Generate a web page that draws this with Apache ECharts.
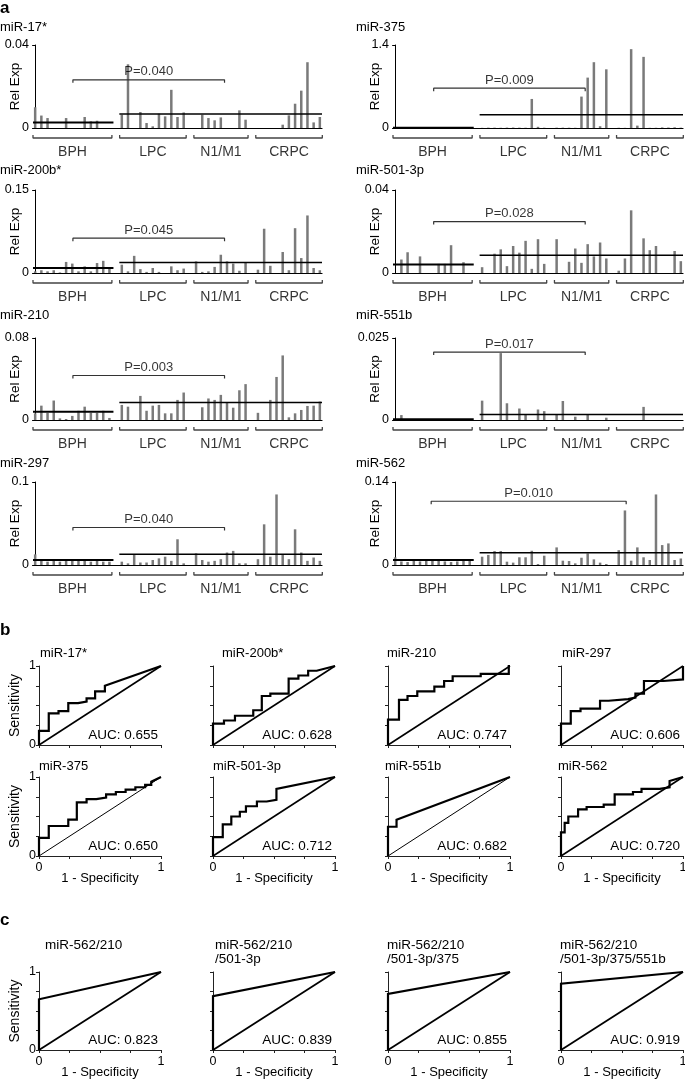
<!DOCTYPE html>
<html>
<head>
<meta charset="utf-8">
<script src="https://cdn.jsdelivr.net/npm/echarts@6/dist/echarts.min.js"></script>
<style>
html,body{margin:0;padding:0;background:#fff}
#chart{width:685px;height:1080px}
</style>
</head>
<body>
<div id="chart"></div>
<script>
// ---- panel a : relative expression per sample (BPH, LPC, N1/M1, CRPC in order) ----
var groupNames = ['BPH', 'LPC', 'N1/M1', 'CRPC'];
var groupSizes = [13, 11, 9, 11];

var mir17 = [0.010,0.006,0.0048,0,0,0.0048,0,0,0.0053,0.0032,0.0035,0,0,
  0.0064,0.0307,0,0.0077,0.0024,0.0008,0.0069,0.0056,0.0184,0.0053,0.0075,
  0,0.0064,0.0048,0.0037,0.0051,0,0,0.0085,0.004,
  0,0,0,0,0.0016,0.0061,0.0117,0.018,0.0317,0.0027,0.0053];
var mir375 = [0.004,0.003,0.003,0.002,0.003,0.004,0.003,0.002,0.003,0.004,0.003,0.003,0.012,
  0.003,0.006,0.006,0.004,0.007,0.008,0.006,0.005,0.49,0.02,0.005,
  0.006,0.006,0.005,0.004,0.53,0.85,1.11,0.03,0.99,
  0.004,0.003,1.33,0.04,1.20,0.003,0.004,0.01,0.008,0.012,0.006];
var mir200b = [0.003,0.005,0.003,0.005,0.001,0.020,0.017,0.003,0.012,0.003,0.018,0.022,0.009,
  0.015,0.003,0.031,0.007,0.002,0.009,0.002,0,0.012,0.005,0.008,
  0.021,0.002,0.003,0.011,0.033,0.021,0.017,0.004,0.019,
  0.006,0.080,0.013,0,0.038,0.005,0.081,0.027,0.104,0.009,0.005];
var mir501 = [0,0.0065,0.010,0,0.008,0,0,0.0044,0.0044,0.0134,0,0.0052,0,
  0.0028,0,0.0093,0.0114,0.0033,0.013,0.0098,0.0155,0.002,0.0163,0.0044,
  0.0163,0,0.0054,0.0118,0.0049,0.0139,0.008,0.0147,0.007,
  0.0011,0.007,0.0302,0,0.0167,0.011,0.013,0,0,0.0106,0.0057];
var mir210 = [0.0065,0.014,0.007,0.019,0.0016,0.001,0.004,0.009,0.013,0.007,0.007,0.009,0.002,
  0.0147,0.013,0,0.0235,0.009,0.014,0.0147,0.0065,0.0065,0.0196,0.0268,
  0,0.0124,0.021,0.0196,0.0245,0.0173,0.012,0.029,0.035,
  0.007,0,0.0196,0.042,0.063,0.0026,0.0065,0.0098,0.0137,0.014,0.018];
var mir551b = [0,0.0015,0,0,0,0,0,0,0,0,0,0,0,
  0.0059,0,0,0.0204,0.0051,0,0.0035,0.0017,0,0.0032,0.0027,
  0.0017,0.0058,0,0.001,0,0.0017,0,0,0.0007,
  0,0,0,0,0.004,0,0,0,0,0,0];
var mir297 = [0.0128,0.005,0.004,0.005,0.004,0.005,0.006,0.005,0.005,0.004,0.005,0.004,0.004,
  0.004,0.002,0.0128,0.003,0.003,0.006,0.008,0.010,0.005,0.031,0.002,
  0.014,0.006,0.004,0.005,0.007,0.015,0.017,0.002,0.002,
  0.007,0.049,0.010,0.085,0.013,0.007,0.043,0.015,0.005,0.009,0.005];
var mir562 = [0.013,0.006,0.005,0.007,0.006,0.008,0.007,0.007,0.006,0.005,0.006,0.008,0.008,
  0.014,0.017,0.0235,0.0235,0.0056,0.004,0.013,0.013,0.024,0.0017,0.0157,
  0.0297,0.0073,0.0067,0.0028,0.0123,0.0196,0.0095,0.004,0.0017,
  0.025,0.092,0.0073,0.0297,0.013,0.0084,0.119,0.0336,0.0364,0.0084,0.011];

var barTitles = ['miR-17*', 'miR-375', 'miR-200b*', 'miR-501-3p', 'miR-210', 'miR-551b', 'miR-297', 'miR-562'];
var barValues = [mir17, mir375, mir200b, mir501, mir210, mir551b, mir297, mir562];
var barMax = [0.04, 1.4, 0.15, 0.04, 0.08, 0.025, 0.1, 0.14];
var bphMean = [0.0027, 0.004, 0.009, 0.0041, 0.008, 0.0002, 0.006, 0.0084];
var cancerMean = [0.0067, 0.224, 0.019, 0.0085, 0.017, 0.0017, 0.013, 0.0207];
var pLabels = ['P=0.040', 'P=0.009', 'P=0.045', 'P=0.028', 'P=0.003', 'P=0.017', 'P=0.040', 'P=0.010'];
var pLevel = [0.0232, 0.672, 0.063, 0.0248, 0.0434, 0.0207, 0.0452, 0.1075];
var pFrom = [6.1, 6.2, 6.1, 6.2, 6.1, 6.2, 6.1, 5.8];
var pTo = [30.6, 30.6, 30.6, 30.6, 30.6, 30.6, 30.6, 37.2];

// ---- panel b : ROC curves of single miRNAs ----
var rocTitles = ['miR-17*', 'miR-200b*', 'miR-210', 'miR-297', 'miR-375', 'miR-501-3p', 'miR-551b', 'miR-562'];
var rocAuc = ['0.655', '0.628', '0.747', '0.606', '0.650', '0.712', '0.682', '0.720'];
var roc17 = [[0,0],[0,0.18],[0.08,0.18],[0.08,0.40],[0.16,0.40],[0.16,0.43],[0.24,0.43],[0.24,0.53],[0.32,0.53],[0.32,0.55],[0.39,0.55],[0.39,0.59],[0.46,0.59],[0.46,0.68],[0.54,0.68],[0.54,0.75],[1,1]];
var roc200b = [[0,0],[0,0.27],[0.09,0.27],[0.09,0.31],[0.18,0.31],[0.18,0.37],[0.33,0.37],[0.33,0.44],[0.40,0.44],[0.40,0.62],[0.47,0.62],[0.47,0.65],[0.62,0.65],[0.62,0.84],[0.70,0.84],[0.70,0.88],[0.78,0.88],[0.78,0.94],[0.85,0.94],[1,1]];
var roc210 = [[0,0],[0,0.32],[0.09,0.32],[0.09,0.57],[0.16,0.57],[0.16,0.62],[0.24,0.62],[0.24,0.68],[0.38,0.68],[0.38,0.74],[0.46,0.74],[0.46,0.81],[0.53,0.81],[0.53,0.87],[0.76,0.87],[0.76,0.90],[0.99,0.90],[0.99,1],[1,1]];
var roc297 = [[0,0],[0,0.27],[0.08,0.27],[0.08,0.43],[0.16,0.43],[0.16,0.46],[0.32,0.46],[0.32,0.56],[0.39,0.56],[0.39,0.58],[0.55,0.58],[0.55,0.60],[0.61,0.60],[0.61,0.65],[0.68,0.65],[0.68,0.81],[0.84,0.81],[0.84,0.83],[1,0.83],[1,1]];
var roc375 = [[0,0],[0,0.23],[0.08,0.23],[0.08,0.38],[0.24,0.38],[0.24,0.46],[0.31,0.46],[0.31,0.68],[0.39,0.68],[0.39,0.72],[0.47,0.72],[0.47,0.74],[0.55,0.74],[0.55,0.78],[0.63,0.78],[0.63,0.81],[0.71,0.81],[0.71,0.84],[0.79,0.84],[0.79,0.87],[0.87,0.87],[0.87,0.90],[0.92,0.90],[0.92,0.94],[1,1]];
var roc501 = [[0,0],[0,0.24],[0.08,0.24],[0.08,0.40],[0.15,0.40],[0.15,0.50],[0.22,0.50],[0.22,0.56],[0.27,0.56],[0.27,0.63],[0.36,0.63],[0.36,0.69],[0.44,0.69],[0.44,0.71],[0.52,0.71],[0.52,0.85],[1,1]];
var roc551b = [[0,0],[0,0.37],[0.07,0.37],[0.07,0.46],[1,1]];
var roc562 = [[0,0],[0,0.30],[0.03,0.30],[0.03,0.42],[0.06,0.42],[0.06,0.50],[0.14,0.50],[0.14,0.59],[0.21,0.59],[0.21,0.62],[0.35,0.62],[0.35,0.65],[0.44,0.65],[0.44,0.78],[0.59,0.78],[0.59,0.81],[0.66,0.81],[0.66,0.85],[0.81,0.85],[0.81,0.87],[0.89,0.87],[0.89,0.95],[1,1]];
var rocCurves = [roc17, roc200b, roc210, roc297, roc375, roc501, roc551b, roc562];

// ---- panel c : ROC curves of miRNA combinations ----
var comboTitles = ['miR-562/210', 'miR-562/210\n/501-3p', 'miR-562/210\n/501-3p/375', 'miR-562/210\n/501-3p/375/551b'];
var comboAuc = ['0.823', '0.839', '0.855', '0.919'];
var comboCurves = [
  [[0,0],[0,0.65],[1,1]],
  [[0,0],[0,0.69],[1,1]],
  [[0,0],[0,0.72],[1,1]],
  [[0,0],[0,0.85],[1,1]]
];
var diagonal = [[0,0],[1,1]];

var FONT = 'Liberation Sans, Arial, Helvetica, sans-serif';
var grids = [], xAxes = [], yAxes = [], series = [], graphics = [];

function addText(txt, x, y, size, align, weight) {
    graphics.push({
        type: 'text', x: x, y: y, silent: true,
        style: {text: txt, fill: '#000', font: (weight || 'normal') + ' ' + size + 'px ' + FONT,
            textAlign: align || 'left', textVerticalAlign: 'middle'}
    });
}

// bar panels layout
var barCols = [{left: 33, width: 289}, {left: 393, width: 290}];
var barRows = [{top: 45, height: 83}, {top: 190, height: 83}, {top: 338, height: 82}, {top: 482, height: 83}];
var barTitleX = [0, 356];
var barTitleY = [27, 170, 315, 463];

barValues.forEach(function (vals, k) {
    var col = k % 2, row = Math.floor(k / 2);
    var gi = grids.length;
    var M = barMax[k], h = barRows[row].height;
    grids.push({left: barCols[col].left, top: barRows[row].top, width: barCols[col].width, height: h,
        outerBoundsMode: 'none', containLabel: false});
    xAxes.push({
        gridIndex: gi, type: 'value', min: -0.35, max: 46.35,
        axisLine: {lineStyle: {color: '#000', width: 1.2}},
        axisTick: {show: false}, axisLabel: {show: false}, splitLine: {show: false}
    });
    yAxes.push({
        gridIndex: gi, type: 'value', min: 0, max: M, interval: M,
        name: 'Rel Exp', nameLocation: 'middle', nameGap: 11, nameMoveOverlap: false,
        nameTextStyle: {fontSize: 13.5, color: '#000', fontFamily: FONT},
        axisLine: {show: true, lineStyle: {color: '#000', width: 1}},
        axisTick: {show: true, length: 3, lineStyle: {color: '#000'}},
        axisLabel: {margin: 4, fontSize: 12.5, color: '#000', fontFamily: FONT},
        splitLine: {show: false}
    });
    addText(barTitles[k], barTitleX[col], barTitleY[row], 13);

    // slots: groups separated by one empty slot
    var pts = [], slot = 0, idx = 0;
    groupSizes.forEach(function (n, g) {
        var start = slot, end = slot + n - 1;
        for (var i = 0; i < n; i++) {
            pts.push([slot + i, vals[idx++]]);
        }
        var a = start - 0.35, b = end + 0.4;
        var y0 = -7 / h * M, y1 = -10 / h * M;
        series.push({
            type: 'line', xAxisIndex: gi, yAxisIndex: gi, clip: false, symbol: 'none', silent: true,
            data: [[a, y0], [a, y1], [b, y1], [b, y0]],
            lineStyle: {color: '#444', width: 1.3}
        });
        series.push({
            type: 'scatter', xAxisIndex: gi, yAxisIndex: gi, clip: false, silent: true,
            symbolSize: 1, itemStyle: {color: 'rgba(0,0,0,0)'},
            data: [[(a + b) / 2, y1]],
            label: {show: true, position: 'bottom', distance: 7, formatter: groupNames[g],
                fontSize: 14, color: '#000', fontFamily: FONT}
        });
        slot += n + 1;
    });

    series.push({
        type: 'bar', xAxisIndex: gi, yAxisIndex: gi, barWidth: 2.5, silent: true,
        itemStyle: {color: '#7a7a7a'}, data: pts
    });
    // group means
    series.push({
        type: 'line', xAxisIndex: gi, yAxisIndex: gi, symbol: 'none', silent: true, clip: false,
        data: [[-0.35, bphMean[k]], [12.65, bphMean[k]]],
        lineStyle: {color: '#000', width: 2}
    });
    series.push({
        type: 'line', xAxisIndex: gi, yAxisIndex: gi, symbol: 'none', silent: true, clip: false,
        data: [[13.6, cancerMean[k]], [46.35, cancerMean[k]]],
        lineStyle: {color: '#000', width: 1.5}
    });
    // P bracket
    var t = 3 / h * M;
    series.push({
        type: 'line', xAxisIndex: gi, yAxisIndex: gi, symbol: 'none', silent: true,
        data: [[pFrom[k], pLevel[k] - t], [pFrom[k], pLevel[k]], [pTo[k], pLevel[k]], [pTo[k], pLevel[k] - t]],
        lineStyle: {color: '#333', width: 1.2}
    });
    series.push({
        type: 'scatter', xAxisIndex: gi, yAxisIndex: gi, silent: true, symbolSize: 1,
        itemStyle: {color: 'rgba(0,0,0,0)'},
        data: [[(pFrom[k] + pTo[k]) / 2, pLevel[k]]],
        label: {show: true, position: 'top', distance: 1, formatter: pLabels[k],
            fontSize: 13, color: '#000', fontFamily: FONT}
    });
});

// ROC panels layout
var rocColLeft = [39, 213, 388, 561];
var rocW = 122;

function addRoc(curve, auc, left, top, h, showY, showX, diagW) {
    var gi = grids.length;
    grids.push({left: left, top: top, width: rocW, height: h, outerBoundsMode: 'none', containLabel: false});
    xAxes.push({
        gridIndex: gi, type: 'value', min: 0, max: 1, interval: 0.25,
        name: showX ? '1 - Specificity' : '', nameLocation: 'middle', nameGap: 16, nameMoveOverlap: false,
        nameTextStyle: {fontSize: 13, color: '#000', fontFamily: FONT},
        axisLine: {lineStyle: {color: '#222', width: 1}},
        axisTick: {length: 3, lineStyle: {color: '#222'}},
        axisLabel: {show: showX, margin: 5, fontSize: 12.5, color: '#000', fontFamily: FONT,
            formatter: function (v) { return v === 0 ? '0' : (v === 1 ? '1' : ''); }},
        splitLine: {show: false}
    });
    yAxes.push({
        gridIndex: gi, type: 'value', min: 0, max: 1, interval: 0.25,
        name: showY ? 'Sensitivity' : '', nameLocation: 'middle', nameGap: 17, nameMoveOverlap: false,
        nameTextStyle: {fontSize: 14, color: '#000', fontFamily: FONT},
        axisLine: {show: true, lineStyle: {color: '#222', width: 1}},
        axisTick: {length: 3, lineStyle: {color: '#222'}},
        axisLabel: {show: showY, margin: 3, fontSize: 12.5, color: '#000', fontFamily: FONT,
            formatter: function (v) { return v === 0 ? '0' : (v === 1 ? '1' : ''); }},
        splitLine: {show: false}
    });
    series.push({
        type: 'line', xAxisIndex: gi, yAxisIndex: gi, symbol: 'none', silent: true, clip: false,
        data: diagonal, lineStyle: {color: '#000', width: diagW}
    });
    series.push({
        type: 'line', xAxisIndex: gi, yAxisIndex: gi, symbol: 'none', silent: true, clip: false,
        data: curve, lineStyle: {color: '#000', width: 2.2, join: 'miter'}
    });
    addText('AUC: ' + auc, left + rocW - 3, top + h - 10, 13.5, 'right');
}

var rocRowTop = [666, 777];
var rocTitleX = [[40, 222, 387, 562], [39, 213, 385, 558]];
var rocTitleY = [653, 766];
rocCurves.forEach(function (c, k) {
    var row = Math.floor(k / 4), col = k % 4;
    addRoc(c, rocAuc[k], rocColLeft[col], rocRowTop[row], 79, col === 0, row === 1, (k === 4 || k === 6) ? 1 : 1.6);
    addText(rocTitles[k], rocTitleX[row][col], rocTitleY[row], 13);
});

var comboTitleX = [45, 215, 387, 560];
comboCurves.forEach(function (c, k) {
    addRoc(c, comboAuc[k], rocColLeft[k], 972, 78, k === 0, true, 1.8);
    var lines = comboTitles[k].split('\n');
    lines.forEach(function (ln, j) {
        addText(ln, comboTitleX[k], 945 + j * 14, 13.5);
    });
});

// panel letters
addText('a', 0, 8, 17, 'left', 'bold');
addText('b', 0, 630, 17, 'left', 'bold');
addText('c', 0, 920, 17, 'left', 'bold');

var chart = echarts.init(document.getElementById('chart'));
chart.setOption({
    animation: false,
    backgroundColor: '#fff',
    grid: grids,
    xAxis: xAxes,
    yAxis: yAxes,
    series: series,
    graphic: graphics
});
</script>
</body>
</html>
